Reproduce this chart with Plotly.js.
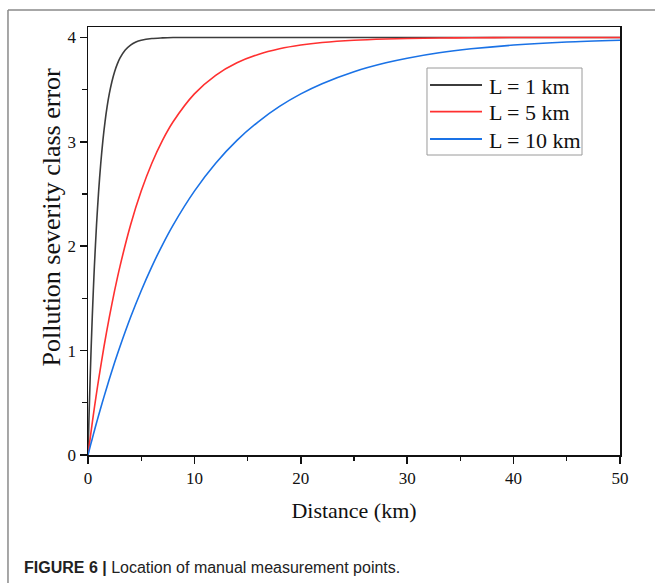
<!DOCTYPE html>
<html>
<head>
<meta charset="utf-8">
<script src="https://cdn.plot.ly/plotly-3.0.1.min.js"></script>
<style>html,body{margin:0;padding:0;background:#fff;}#chart{width:655px;height:583px;}</style>
</head>
<body>
<div id="chart"></div>
<script>
// Series
var seriesNames = ["L = 1 km", "L = 5 km", "L = 10 km"];

var xL1 = [0,0.1,0.2,0.3,0.4,0.5,0.6,0.8,1,1.2,1.4,1.6,1.8,2,2.25,2.5,2.75,3,3.5,4,4.5,5,6,7,8,10,15,20,30,40,50];
var yL1 = [0,0.381,0.725,1.037,1.319,1.574,1.805,2.203,2.528,2.795,3.014,3.192,3.339,3.459,3.578,3.672,3.744,3.801,3.879,3.927,3.956,3.973,3.990,3.996,3.999,4.0,4.0,4.0,4.0,4.0,4.0];

var xL5 = [0,0.25,0.5,0.75,1,1.5,2,2.5,3,4,5,6,7,8,10,12,14,16,18,20,22,25,28,30,33,36,40,45,50];
var yL5 = [0,0.195,0.381,0.557,0.725,1.037,1.319,1.574,1.805,2.203,2.528,2.795,3.014,3.192,3.459,3.637,3.757,3.837,3.891,3.927,3.951,3.973,3.985,3.990,3.995,3.997,3.999,4.0,4.0];

var xL10 = [0,0.25,0.5,0.75,1,1.5,2,2.5,3,4,5,6,7,8,10,12,14,16,18,20,22,25,28,30,33,36,40,45,50];
var yL10 = [0,0.099,0.195,0.289,0.381,0.557,0.725,0.885,1.037,1.319,1.574,1.805,2.014,2.203,2.528,2.795,3.014,3.192,3.339,3.459,3.557,3.672,3.757,3.801,3.853,3.891,3.927,3.956,3.973];

var xTitle = "Distance (km)";
var yTitle = "Pollution severity class error";
var caption = "<b>FIGURE 6 |</b> Location of manual measurement points.";

var colors = ["#3c3c3c", "#ff3030", "#1a72e6"];

var xs = [xL1, xL5, xL10];
var ys = [yL1, yL5, yL10];
var traces = seriesNames.map(function (n, i) {
  return {x: xs[i], y: ys[i], name: n, mode: "lines", showlegend: false,
          line: {color: colors[i], width: 1.6, shape: "spline", smoothing: 0.8}};
});

var serif = "Liberation Serif, Times New Roman, serif";

// legend box drawn in paper coordinates
var legBox = {x0: 0.6372, x1: 0.9286, y0: 0.7009, y1: 0.9042};
var legRowY = [0.8645, 0.8021, 0.7383];
var legLineX = [0.6429, 0.7406];
var legTextX = 0.750;

var shapes = [
  {type: "line", xref: "paper", yref: "paper", x0: -0.1504, x1: 1.07, y0: 1.0397, y1: 1.0397, line: {color: "#8a8a8a", width: 1.5}},
  {type: "line", xref: "paper", yref: "paper", x0: -0.1504, x1: -0.1504, y0: 1.0397, y1: -0.31, line: {color: "#8a8a8a", width: 1.5}},
  {type: "rect", xref: "paper", yref: "paper", x0: legBox.x0, x1: legBox.x1, y0: legBox.y0, y1: legBox.y1,
   line: {color: "#9a9a9a", width: 1}, fillcolor: "#fff", layer: "above"}
];
var annotations = [
  {text: yTitle, textangle: -90, xref: "paper", yref: "paper", x: -0.0695, y: 0.555, xanchor: "center", yanchor: "middle", showarrow: false,
   font: {family: serif, size: 26, color: "#111"}},
  {text: caption, xref: "paper", yref: "paper", x: -0.124, y: -0.264, xanchor: "left", yanchor: "middle", showarrow: false,
   font: {family: "Liberation Sans, Arial, sans-serif", size: 16, color: "#222"}}
];
seriesNames.forEach(function (n, i) {
  shapes.push({type: "line", xref: "paper", yref: "paper", x0: legLineX[0], x1: legLineX[1], y0: legRowY[i], y1: legRowY[i],
               line: {color: colors[i], width: 1.8}, layer: "above"});
  annotations.push({text: n, xref: "paper", yref: "paper", x: legTextX, y: legRowY[i] - 0.003, xanchor: "left", yanchor: "middle",
                    showarrow: false, font: {family: serif, size: 22, color: "#111"}});
});

var layout = {
  width: 655, height: 583,
  margin: {l: 88, r: 35, t: 27, b: 128, pad: 0},
  paper_bgcolor: "#fff", plot_bgcolor: "#fff",
  showlegend: false,
  xaxis: {
    range: [0, 50], dtick: 10, tick0: 0,
    showgrid: false, zeroline: false,
    showline: true, mirror: true, linecolor: "#111", linewidth: 1.5,
    ticks: "outside", ticklen: 7, tickwidth: 1.5, tickcolor: "#111",
    minor: {dtick: 5, ticks: "outside", ticklen: 4, tickwidth: 1.2, tickcolor: "#111", showgrid: false},
    tickfont: {family: serif, size: 17, color: "#111"},
    title: {text: xTitle, font: {family: serif, size: 22, color: "#111"}, standoff: 15}
  },
  yaxis: {
    range: [0, 4.1], dtick: 1, tick0: 0,
    showgrid: false, zeroline: false,
    showline: true, mirror: true, linecolor: "#111", linewidth: 1.5,
    ticks: "outside", ticklen: 7, tickwidth: 1.5, tickcolor: "#111",
    minor: {dtick: 0.5, ticks: "outside", ticklen: 5, tickwidth: 1.2, tickcolor: "#111", showgrid: false},
    tickfont: {family: serif, size: 17, color: "#111"}
  },
  shapes: shapes,
  annotations: annotations
};

Plotly.newPlot("chart", traces, layout, {displayModeBar: false, staticPlot: true});
</script>
</body>
</html>
